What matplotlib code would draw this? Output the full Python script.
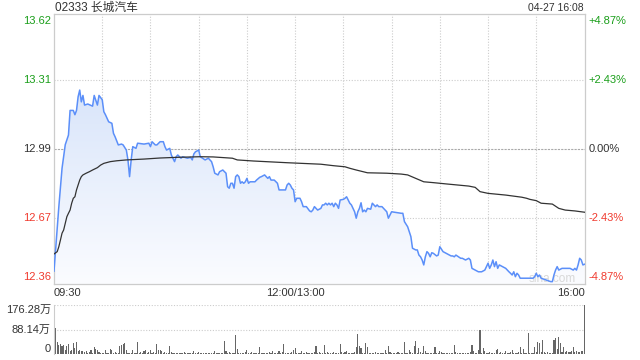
import numpy as np
import matplotlib
matplotlib.use("Agg")
import matplotlib.pyplot as plt
from matplotlib.colors import LinearSegmentedColormap

plt.rcParams['font.family'] = ['Liberation Sans', 'Noto Sans CJK SC', 'DejaVu Sans']

# price line: minutes since 09:30 (trading minutes), price
price_min = [0, 3, 5, 7, 9, 10, 12, 13, 14, 15, 16, 17, 18, 19, 21, 24, 25, 27, 28, 30, 31, 32,
             34, 36, 37, 38, 40, 42, 43, 45, 46, 47, 48, 49, 51, 52, 56, 59, 60, 61, 63, 64,
             66, 68, 69, 70, 72, 73, 75, 76, 77, 79, 80, 83, 85, 86, 87, 88, 90, 91, 94, 96,
             98, 99, 100, 102, 103, 105, 107, 108, 109, 110, 111, 112, 113, 114, 115, 116, 117,
             118, 119, 120, 121, 122, 125, 126, 128, 129, 131, 132, 133, 134, 135, 137, 139,
             140, 144, 145, 146, 147, 148, 149, 150, 151, 153, 154, 155, 157, 159, 160, 161,
             162, 163, 164, 166, 167, 168, 169, 170, 171, 172, 173, 174, 175, 176, 177, 178,
             180, 181, 182, 183, 184, 185, 186, 187, 188, 189, 190, 191, 192, 193, 194, 195,
             197, 198, 199, 200, 201, 202, 204, 205, 206, 207, 208, 209, 210, 216, 217, 218,
             220, 221, 222, 223, 225, 226, 227, 228, 229, 230, 231, 232, 233, 234, 235, 236,
             238, 239, 240, 242, 244, 247, 248, 249, 250, 253, 254, 256, 258, 259, 260, 264,
             266, 268, 269, 270, 271, 272, 273, 274, 275, 276, 277, 279, 281, 282, 283, 284,
             285, 286, 287, 288, 289, 290, 293, 296, 298, 299, 300, 301, 302, 303, 306, 309,
             310, 311, 312, 313, 314, 316, 319, 321, 323, 324, 325, 326, 327, 328, 329, 330]
price_val = [12.42, 12.72, 12.90, 13.01, 13.055, 13.17, 13.17, 13.15, 13.17, 13.234, 13.265,
             13.21, 13.24, 13.195, 13.20, 13.19, 13.24, 13.195, 13.24, 13.22, 13.164, 13.15,
             13.117, 13.11, 13.063, 13.047, 13.009, 13.013, 13.009, 12.985, 12.939, 12.861,
             12.939, 13.001, 12.993, 13.017, 13.013, 13.017, 13.001, 13.024, 13.009, 13.009,
             13.024, 13.024, 13.001, 12.985, 12.993, 12.962, 12.931, 12.954, 12.962, 12.947,
             12.954, 12.947, 12.951, 12.939, 12.967, 12.977, 12.985, 12.954, 12.939, 12.947,
             12.931, 12.907, 12.877, 12.869, 12.884, 12.892, 12.877, 12.814, 12.807, 12.830,
             12.830, 12.807, 12.861, 12.869, 12.861, 12.830, 12.837, 12.830, 12.837, 12.853,
             12.830, 12.837, 12.837, 12.845, 12.858, 12.861, 12.869, 12.861, 12.853, 12.861,
             12.845, 12.845, 12.830, 12.799, 12.799, 12.822, 12.830, 12.822, 12.807, 12.799,
             12.744, 12.760, 12.760, 12.744, 12.721, 12.721, 12.701, 12.697, 12.705, 12.721,
             12.713, 12.705, 12.713, 12.729, 12.729, 12.737, 12.729, 12.737, 12.729, 12.737,
             12.721, 12.737, 12.729, 12.713, 12.752, 12.755, 12.760, 12.767, 12.752, 12.737,
             12.729, 12.713, 12.697, 12.667, 12.697, 12.713, 12.739, 12.697, 12.705, 12.697,
             12.713, 12.709, 12.737, 12.729, 12.721, 12.729, 12.721, 12.721, 12.713, 12.705,
             12.697, 12.667, 12.682, 12.697, 12.690, 12.690, 12.651, 12.627, 12.604, 12.581,
             12.527, 12.519, 12.519, 12.495, 12.487, 12.472, 12.449, 12.487, 12.511, 12.503,
             12.487, 12.506, 12.503, 12.491, 12.495, 12.534, 12.511, 12.503, 12.491, 12.491,
             12.487, 12.495, 12.480, 12.480, 12.472, 12.480, 12.472, 12.433, 12.417, 12.417,
             12.425, 12.441, 12.457, 12.433, 12.449, 12.472, 12.441, 12.464, 12.433, 12.449,
             12.441, 12.433, 12.425, 12.417, 12.410, 12.402, 12.417, 12.394, 12.410, 12.402,
             12.387, 12.387, 12.387, 12.387, 12.394, 12.410, 12.394, 12.402, 12.387, 12.379,
             12.371, 12.371, 12.402, 12.425, 12.441, 12.425, 12.433, 12.433, 12.433, 12.425,
             12.433, 12.425, 12.449, 12.480, 12.472, 12.449, 12.452]

# average price line
avg_min = [0, 2, 3, 4, 5, 6, 7, 8, 9, 10, 11, 12, 13, 14, 15, 16, 17, 18, 20, 22, 24, 27, 29,
           31, 35, 39, 45, 56, 66, 76, 91, 99, 111, 114, 124, 145, 166, 174, 181, 184, 188,
           195, 207, 216, 220, 225, 230, 236, 244, 251, 258, 262, 265, 270, 281, 291, 294,
           296, 300, 303, 310, 314, 318, 324, 330]
avg_val = [12.50, 12.511, 12.534, 12.565, 12.597, 12.612, 12.643, 12.674, 12.690, 12.705,
           12.737, 12.760, 12.767, 12.799, 12.822, 12.845, 12.861, 12.869, 12.877, 12.884,
           12.892, 12.903, 12.915, 12.923, 12.931, 12.935, 12.939, 12.943, 12.948, 12.951,
           12.954, 12.953, 12.947, 12.939, 12.934, 12.926, 12.919, 12.912, 12.907, 12.900,
           12.892, 12.879, 12.877, 12.873, 12.869, 12.853, 12.837, 12.833, 12.827, 12.822,
           12.817, 12.811, 12.791, 12.783, 12.775, 12.765, 12.760, 12.755, 12.749, 12.737,
           12.733, 12.713, 12.705, 12.701, 12.695]

# volume per minute, in 万 shares
volume = [108, 93, 43, 33, 36, 27, 33, 15, 27, 36, 10, 15, 39, 21, 42, 10, 15, 10, 10, 7,
          10, 4, 6, 13, 4, 24, 18, 15, 6, 4, 4, 4, 15, 4, 4, 19, 13, 4, 6, 4,
          4, 27, 32, 36, 38, 15, 4, 4, 4, 13, 4, 4, 42, 4, 6, 4, 10, 13, 4, 6,
          15, 4, 6, 4, 37, 13, 15, 10, 4, 6, 4, 4, 30, 6, 4, 4, 3, 5, 4, 3,
          4, 6, 3, 4, 5, 3, 4, 12, 4, 3, 6, 4, 3, 5, 4, 3, 4, 5, 3, 4,
          10, 4, 3, 5, 4, 4, 45, 12, 4, 6, 3, 4, 5, 69, 18, 4, 3, 5, 4, 8,
          15, 4, 3, 6, 4, 3, 5, 4, 26, 4, 3, 5, 4, 3, 6, 4, 9, 4, 5, 3,
          10, 4, 6, 36, 4, 3, 5, 4, 6, 15, 21, 4, 3, 5, 10, 4, 3, 6, 4, 3,
          5, 4, 6, 30, 4, 8, 3, 5, 32, 4, 6, 4, 3, 5, 7, 4, 3, 5, 36, 6,
          4, 8, 10, 4, 3, 5, 4, 6, 26, 71, 30, 21, 4, 5, 39, 26, 4, 3, 5, 4,
          6, 4, 3, 5, 4, 3, 15, 4, 27, 8, 4, 3, 5, 4, 6, 4, 3, 5, 42, 4,
          3, 15, 6, 4, 27, 45, 4, 21, 8, 4, 27, 10, 4, 3, 5, 4, 3, 24, 4, 5,
          12, 6, 3, 4, 5, 3, 4, 3, 5, 31, 6, 4, 3, 5, 4, 3, 5, 4, 3, 6,
          31, 10, 4, 5, 15, 87, 4, 21, 10, 5, 4, 6, 4, 3, 5, 15, 19, 4, 6, 3,
          5, 10, 4, 3, 6, 15, 4, 5, 3, 6, 24, 4, 19, 5, 3, 75, 4, 3, 5, 24,
          6, 42, 39, 8, 51, 6, 4, 8, 5, 4, 3, 51, 57, 18, 61, 39, 8, 25, 6, 10,
          8, 6, 10, 24, 6, 10, 8, 6, 12, 10, 176.28]

price_ticks = [13.62, 13.31, 12.99, 12.67, 12.36]
pct_labels = ['+4.87%', '+2.43%', '0.00%', '-2.43%', '-4.87%']
tick_colors = ['#1a9e1a', '#1a9e1a', '#333333', '#f03a2e', '#f03a2e']
vol_ticks = [176.28, 88.14, 0]
vol_labels = ['176.28万', '88.14万', '0']
time_ticks = [0, 150, 330]
time_labels = ['09:30', '12:00/13:00', '16:00']

fig = plt.figure(figsize=(6.4, 3.6), dpi=100)
ax = fig.add_axes([54 / 640, 1 - 284 / 360, 530.5 / 640, 270 / 360])
vax = fig.add_axes([54 / 640, 1 - 354 / 360, 530.5 / 640, 49 / 360], sharex=ax)

ymin, ymax = price_ticks[-1], price_ticks[0]
ax.set_xlim(0, 330)
ax.set_ylim(ymin, ymax)

# gradient fill under the price line
cmap = LinearSegmentedColormap.from_list('fill', ['#fbfcff', '#d9e5fa'])
grad = np.linspace(0, 1, 256).reshape(-1, 1)
im = ax.imshow(grad, cmap=cmap, aspect='auto', origin='lower',
               extent=[0, 330, ymin, max(price_val)], zorder=1)
poly = ax.fill_between(price_min, price_val, ymin, color='none', lw=0)
im.set_clip_path(poly.get_paths()[0], transform=ax.transData)

# watermark sits under the lines
ax.text(552 / 640, 1 - 279 / 360, 'sina.com', transform=fig.transFigure,
        ha='center', va='center', fontsize=8.5, color='#d8d8d8', zorder=2)

ax.plot(price_min, price_val, color='#5b8ff9', lw=1.1, zorder=3)
ax.plot(avg_min, avg_val, color='#333333', lw=0.9, zorder=3)

# grid
for t in range(30, 330, 30):
    ax.axvline(t, color='#cccccc', lw=0.8, ls=(0, (1, 1.5)), zorder=0)
for i, p in enumerate(price_ticks[1:-1]):
    if i == 1:
        ax.axhline(p, color='#aaaaaa', lw=0.8, ls=(0, (2, 1)), zorder=0)
    else:
        ax.axhline(p, color='#cccccc', lw=0.8, ls=(0, (1, 1.5)), zorder=0)

ax.set_xticks([])
ax.set_yticks([])
for s in ax.spines.values():
    s.set_color('#cccccc')
    s.set_linewidth(0.9)

# price / percent labels
for i, (p, lab, c) in enumerate(zip(price_ticks, pct_labels, tick_colors)):
    va = 'top' if i == 0 else ('bottom' if i == len(price_ticks) - 1 else 'center')
    off = 2 if i == 0 else (-2 if i == len(price_ticks) - 1 else 0)
    ax.annotate(f'{p:.2f}', (0, p), xycoords=('axes fraction', 'data'),
                xytext=(-3, -off), textcoords='offset pixels',
                ha='right', va=va, color=c, fontsize=8)
    ax.annotate(lab, (1, p), xycoords=('axes fraction', 'data'),
                xytext=(4, -off), textcoords='offset pixels',
                ha='left', va=va, color=c, fontsize=8)

# time labels
for t, lab in zip(time_ticks, time_labels):
    ha = 'left' if t == 0 else ('right' if t == 330 else 'center')
    ax.annotate(lab, (t, 0), xycoords=('data', 'axes fraction'),
                xytext=(0, -9), textcoords='offset pixels',
                ha=ha, va='center', color='#333333', fontsize=8)

fig.text(55 / 640, 1 - 8 / 360, '02333 长城汽车', ha='left', va='center',
         fontsize=8.5, color='#333333')
fig.text(584 / 640, 1 - 8 / 360, '04-27 16:08', ha='right', va='center',
         fontsize=7.5, color='#333333')

# volume panel
vax.bar(range(len(volume)), volume, width=0.7, color='#666666', lw=0)
vax.set_ylim(0, vol_ticks[0])
for v in vol_ticks[:-1]:
    vax.axhline(v, color='#cccccc', lw=0.8, ls=(0, (1, 1.5)), zorder=0)
for s in ['top', 'right', 'bottom']:
    vax.spines[s].set_visible(False)
vax.spines['left'].set_color('#cccccc')
vax.tick_params(left=False, bottom=False, labelbottom=False, labelleft=False)
for i, (v, lab) in enumerate(zip(vol_ticks, vol_labels)):
    va = 'top' if i == 0 else ('bottom' if i == len(vol_ticks) - 1 else 'center')
    vax.annotate(lab, (0, v), xycoords=('axes fraction', 'data'),
                 xytext=(-3, 0), textcoords='offset pixels',
                 ha='right', va=va, color='#333333', fontsize=8)

fig.savefig('out.png', dpi=100, facecolor='white')
